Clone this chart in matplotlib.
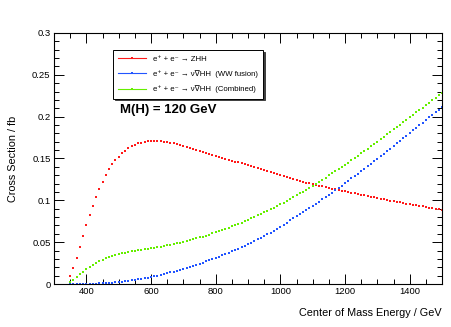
import numpy as np
import matplotlib
matplotlib.use('Agg')
import matplotlib.pyplot as plt
from matplotlib.ticker import MultipleLocator
from matplotlib.lines import Line2D

plt.rcParams['font.family'] = ['Liberation Sans', 'DejaVu Sans']

# centre of mass energy, 10 GeV steps
ENERGY_GEV = np.arange(350, 1501, 10)

# e+ e- -> ZHH
ZHH_FB = [
    0.0090, 0.0190, 0.0310, 0.0440, 0.0570, 0.0700, 0.0830, 0.0930, 0.1040, 0.1140,
    0.1220, 0.1300, 0.1370, 0.1430, 0.1480, 0.1520, 0.1560, 0.1590, 0.1620, 0.1645,
    0.1665, 0.1680, 0.1690, 0.1700, 0.1707, 0.1710, 0.1712, 0.1710, 0.1706, 0.1700,
    0.1695, 0.1688, 0.1680, 0.1670, 0.1660, 0.1650, 0.1638, 0.1626, 0.1614, 0.1602,
    0.1590, 0.1578, 0.1566, 0.1554, 0.1542, 0.1530, 0.1519, 0.1508, 0.1497, 0.1486,
    0.1475, 0.1464, 0.1453, 0.1442, 0.1430, 0.1418, 0.1406, 0.1394, 0.1382, 0.1370,
    0.1358, 0.1346, 0.1334, 0.1322, 0.1311, 0.1300, 0.1289, 0.1278, 0.1267, 0.1256,
    0.1245, 0.1234, 0.1223, 0.1213, 0.1203, 0.1193, 0.1184, 0.1175, 0.1166, 0.1157,
    0.1148, 0.1139, 0.1130, 0.1122, 0.1114, 0.1106, 0.1098, 0.1090, 0.1082, 0.1074,
    0.1066, 0.1058, 0.1050, 0.1042, 0.1034, 0.1026, 0.1018, 0.1011, 0.1004, 0.0997,
    0.0990, 0.0983, 0.0976, 0.0969, 0.0962, 0.0955, 0.0948, 0.0941, 0.0934, 0.0927,
    0.0920, 0.0913, 0.0906, 0.0899, 0.0892, 0.0885,
]

# e+ e- -> nu nubar HH (WW fusion)
WW_FUSION_FB = [
    0.0000, 0.0000, 0.0001, 0.0001, 0.0002, 0.0002, 0.0003, 0.0004, 0.0005, 0.0007,
    0.0009, 0.0011, 0.0014, 0.0017, 0.0020, 0.0024, 0.0028, 0.0032, 0.0037, 0.0042,
    0.0048, 0.0054, 0.0061, 0.0068, 0.0075, 0.0083, 0.0091, 0.0100, 0.0109, 0.0118,
    0.0128, 0.0138, 0.0149, 0.0160, 0.0171, 0.0183, 0.0195, 0.0207, 0.0220, 0.0233,
    0.0244, 0.0255, 0.0269, 0.0283, 0.0297, 0.0311, 0.0326, 0.0341, 0.0357, 0.0373,
    0.0389, 0.0406, 0.0423, 0.0440, 0.0458, 0.0476, 0.0494, 0.0513, 0.0532, 0.0552,
    0.0572, 0.0592, 0.0614, 0.0637, 0.0661, 0.0685, 0.0709, 0.0734, 0.0759, 0.0784,
    0.0809, 0.0834, 0.0859, 0.0884, 0.0909, 0.0934, 0.0960, 0.0986, 0.1012, 0.1039,
    0.1066, 0.1093, 0.1120, 0.1148, 0.1176, 0.1204, 0.1232, 0.1261, 0.1290, 0.1319,
    0.1348, 0.1377, 0.1407, 0.1437, 0.1467, 0.1497, 0.1527, 0.1557, 0.1588, 0.1619,
    0.1650, 0.1681, 0.1712, 0.1743, 0.1774, 0.1805, 0.1836, 0.1867, 0.1898, 0.1929,
    0.1960, 0.1991, 0.2022, 0.2053, 0.2084, 0.2115,
]

# e+ e- -> nu nubar HH (combined)
COMBINED_FB = [
    0.0020, 0.0050, 0.0080, 0.0115, 0.0140, 0.0174, 0.0200, 0.0227, 0.0250, 0.0270,
    0.0290, 0.0305, 0.0320, 0.0334, 0.0346, 0.0357, 0.0366, 0.0374, 0.0382, 0.0389,
    0.0396, 0.0403, 0.0410, 0.0416, 0.0422, 0.0428, 0.0434, 0.0441, 0.0448, 0.0455,
    0.0462, 0.0470, 0.0478, 0.0486, 0.0495, 0.0504, 0.0514, 0.0524, 0.0534, 0.0545,
    0.0556, 0.0567, 0.0579, 0.0591, 0.0604, 0.0617, 0.0631, 0.0645, 0.0659, 0.0674,
    0.0689, 0.0704, 0.0719, 0.0735, 0.0751, 0.0768, 0.0785, 0.0802, 0.0820, 0.0838,
    0.0856, 0.0875, 0.0894, 0.0913, 0.0933, 0.0953, 0.0974, 0.0995, 0.1016, 0.1038,
    0.1060, 0.1082, 0.1105, 0.1128, 0.1151, 0.1175, 0.1199, 0.1223, 0.1247, 0.1272,
    0.1297, 0.1322, 0.1347, 0.1373, 0.1399, 0.1425, 0.1452, 0.1479, 0.1506, 0.1533,
    0.1561, 0.1589, 0.1617, 0.1645, 0.1673, 0.1702, 0.1731, 0.1760, 0.1789, 0.1818,
    0.1847, 0.1876, 0.1905, 0.1934, 0.1963, 0.1992, 0.2021, 0.2050, 0.2079, 0.2108,
    0.2137, 0.2166, 0.2195, 0.2224, 0.2253, 0.2282,
]

SERIES = [
    (ZHH_FB,       '#ff1a1a', 'e⁺ + e⁻ → ZHH'),
    (WW_FUSION_FB, '#2255ff', 'e⁺ + e⁻ → ν∇HH  (WW fusion)'),
    (COMBINED_FB,  '#66ee00', 'e⁺ + e⁻ → ν∇HH  (Combined)'),
]

fig = plt.figure(figsize=(4.51, 3.27), dpi=100)
ax = fig.add_axes([54 / 451, 1 - 284 / 327, 388 / 451, 251 / 327])

for values, color, label in SERIES:
    ax.plot(ENERGY_GEV, values, ls='none', marker='s', ms=1.7, mew=0, color=color)

ax.set_xlim(300, 1500)
ax.set_ylim(0, 0.3)

ax.xaxis.set_major_locator(MultipleLocator(200))
ax.xaxis.set_minor_locator(MultipleLocator(50))
ax.yaxis.set_major_locator(MultipleLocator(0.05))
ax.yaxis.set_minor_locator(MultipleLocator(0.01))
ax.yaxis.set_major_formatter(plt.FuncFormatter(lambda v, p: f'{v:g}'))

ax.tick_params(which='both', direction='in', top=True, right=True,
               labelsize=6.8, width=0.7, color='black')
ax.tick_params(which='major', length=7, pad=2.5)
ax.tick_params(which='minor', length=3.6)
for sp in ax.spines.values():
    sp.set_linewidth(0.8)

ax.set_xlabel('Center of Mass Energy / GeV', fontsize=7.8, loc='right', labelpad=8)
ax.set_ylabel('Cross Section / fb', fontsize=7.8, labelpad=10)

fig.text(120 / 451, 1 - 110 / 327, 'M(H) = 120 GeV', fontsize=9.5,
         fontweight='bold', va='center', ha='left')

handles = [Line2D([0], [0], color=c, lw=0.8, marker='s', ms=1.6, mew=0, label=l)
           for _, c, l in SERIES]
leg = ax.legend(handles=handles, loc='upper left',
                bbox_to_anchor=(113 / 451, 1 - 50 / 327),
                bbox_transform=fig.transFigure,
                fontsize=5.6, frameon=True, fancybox=False, edgecolor='black',
                framealpha=1, borderpad=0.7, handlelength=3.5,
                handletextpad=0.9, labelspacing=0.95, borderaxespad=0,
                shadow={'color': '0.25', 'alpha': 1, 'ox': 1.2, 'oy': -1.2})
leg.get_frame().set_linewidth(0.7)

fig.savefig('out.png', dpi=100)
